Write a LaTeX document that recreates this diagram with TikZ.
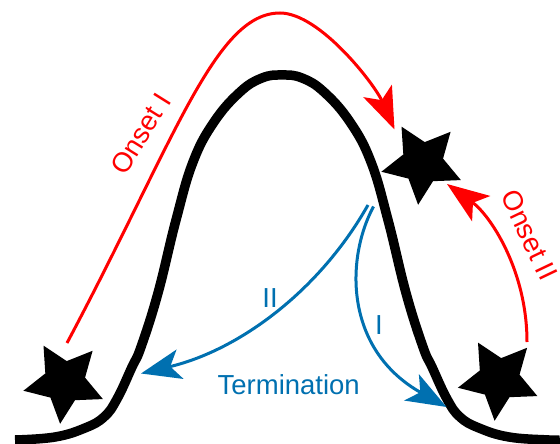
\documentclass[tikz,border=0pt]{standalone}
\usepackage{fontspec}
\setmainfont{Liberation Sans}
\usetikzlibrary{shapes.geometric,arrows.meta}
\definecolor{onsetred}{RGB}{255,0,0}
\definecolor{termblue}{RGB}{0,112,176}
\begin{document}
\begin{tikzpicture}[x=1pt,y=-1pt,
  starnode/.style={star,star points=5,star point ratio=2,fill=black,draw=none,inner sep=0pt,minimum size=84pt,rotate=30},
  bell/.style={line width=9.5pt,black,line join=round},
  onset/.style={onsetred,line width=3pt,-{Stealth[length=42pt,width=31pt,inset=10pt]}},
  term/.style={termblue,line width=3pt,-{Stealth[length=40pt,width=30pt,inset=10pt]}},
  lbl/.style={font=\fontsize{27.5}{30}\selectfont,inner sep=0pt}]
\useasboundingbox (0,0) rectangle (560,444);
% bell curve
\draw[bell] plot[smooth,tension=0.7] coordinates {
 (15,440) (55,437) (85,428) (104,417) (117,399) (132,367) (141,347) (158,293)
 (176,220) (193,162) (214,122) (240,92) (262,78) (282,75)
 (302,78) (324,92) (350,122) (371,162) (388,220) (406,293) (423,347) (432,367)
 (447,399) (460,417) (479,428) (509,437) (549,440) (560,440)};
% stars
\node[starnode] (s1) at (64.5,382) {};
\node[starnode] (s2) at (422.5,163) {};
\node[starnode] (s3) at (499,379) {};
% endpoints
\coordinate (a1) at (67,343);
\coordinate (a1top) at (280,13);
\coordinate (a1tip) at (394.5,129.5);
\coordinate (a2) at (527,342);
\coordinate (a2tip) at (447,184);
\coordinate (bI) at (373.5,206.5);
\coordinate (bII) at (368,205);
\coordinate (tI) at (446.5,407);
\coordinate (tII) at (141,373.5);
% onset arrows
\draw[onset] (a1) .. controls (175,140) and (215,13) .. (a1top)
  .. controls (320,13) and (375,85) .. (a1tip);
\draw[onset] (a2) .. controls (527,270) and (490,215) .. (a2tip);
% termination arrows
\draw[term] (bII) .. controls (320,290) and (240,350) .. (tII);
\draw[term] (bI) .. controls (345,260) and (345,350) .. (tI);
% labels
\node[lbl,onsetred,rotate=58] (l1) at (140.6,133.6) {Onset I};
\node[lbl,onsetred,rotate=-64.5] (l2) at (529.3,235.2) {Onset II};
\node[lbl,termblue,anchor=base] (l3) at (270,307.3) {II};
\node[lbl,termblue,anchor=base] (l4) at (379,334) {I};
\node[lbl,termblue,anchor=base] (l5) at (288.7,394) {Termination};
\end{tikzpicture}
\end{document}
